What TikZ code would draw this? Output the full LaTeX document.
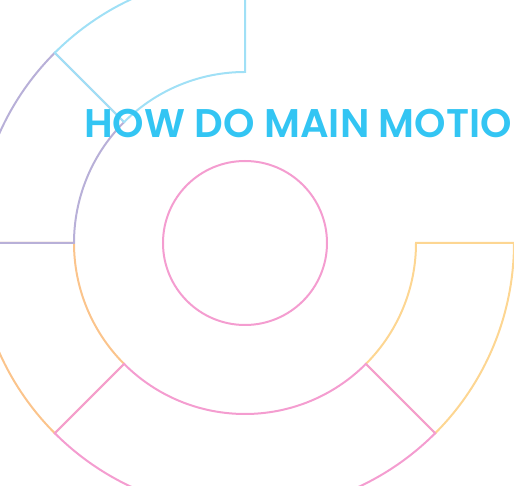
\documentclass[tikz,border=0pt]{standalone}
\usepackage{fontspec}
\newfontfamily\titlefont{Poppins}[UprightFont=* SemiBold]
\definecolor{ringblue}{RGB}{160,224,246}
\definecolor{ringpurple}{RGB}{184,176,216}
\definecolor{ringorange}{RGB}{251,196,140}
\definecolor{ringpink}{RGB}{244,157,208}
\definecolor{ringyellow}{RGB}{253,214,146}
\definecolor{titleblue}{RGB}{51,197,243}
\usetikzlibrary{positioning}

\begin{document}
\begin{tikzpicture}[x=1pt, y=1pt,
  seg/.style={line width=2pt, line join=miter},
  ttl/.style={font=\titlefont\fontsize{40}{40}\selectfont, text=titleblue,
    inner sep=0pt, anchor=base west},
]
\useasboundingbox (-245,-243) rectangle (269,243);
\clip (-245,-243) rectangle (269,243);
% ring segments: start/end angle/colour
\foreach \a/\b/\c in {180/225/ringorange, -45/0/ringyellow,
                      225/315/ringpink, 135/180/ringpurple, 90/135/ringblue}
  \draw[seg, \c] (\a:171) arc[start angle=\a, end angle=\b, radius=171]
    -- (\b:269) arc[start angle=\b, end angle=\a, radius=269] -- cycle;
\node[draw=ringpink, line width=2pt, circle, minimum size=164pt] (core) at (0,0) {};
\node[ttl] (title) at (-161,105) {HOW DO MAIN MOTIO};
\end{tikzpicture}
\end{document}
